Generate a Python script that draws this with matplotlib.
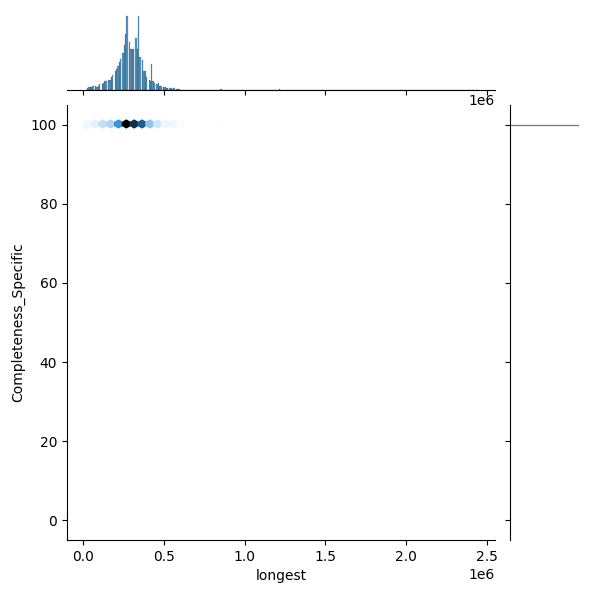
import numpy as np
import pandas as pd
import seaborn as sns
import matplotlib
matplotlib.use("Agg")
import matplotlib.pyplot as plt

# histogram of 'longest': bin start (x1e4) and relative counts
bin_starts = list(range(2, 60))  # 0.02e6 .. 0.59e6 in steps of 0.01e6
bin_counts = [3, 4, 4, 4, 5, 5, 4, 6, 8, 8, 10, 12, 12, 14, 14, 18, 20, 25,
              28, 32, 38, 42, 50, 60, 75, 100, 65, 55, 55, 55, 70, 55, 100, 45,
              40, 25, 25, 18, 14, 12, 35, 12, 10, 8, 10, 6, 5, 4, 4, 3, 3, 3,
              2, 2, 3, 2, 2, 2]
outlier_x = [0.62e6, 0.65e6, 0.70e6, 0.74e6, 0.85e6, 0.95e6, 1.08e6, 1.18e6,
             1.22e6, 1.55e6, 1.62e6, 1.75e6, 2.0e6, 2.45e6]
outlier_n = [2, 2, 2, 1, 6, 1, 1, 2, 3, 1, 1, 2, 1, 1]
zero_x = [0.30e6, 0.42e6, 0.55e6]

xs = np.concatenate([
    np.repeat(np.array(bin_starts) * 1e4 + 5e3, np.array(bin_counts) * 3),
    np.repeat(outlier_x, outlier_n),
    zero_x,
])
ys = np.full(len(xs), 100.0)
ys[-len(zero_x):] = 0.0

df = pd.DataFrame({"longest": xs, "Completeness_Specific": ys})
g = sns.jointplot(data=df, x="longest", y="Completeness_Specific", kind="hex", height=6,
                  marginal_kws=dict(bins=300))
g.ax_marg_x.set_xlim(-0.1e6, 2.55e6)
W = 600
g.ax_joint.set_position([67/W, 60/W, 428/W, 435/W])
g.ax_marg_x.set_position([67/W, 510/W, 428/W, 78/W])
g.ax_marg_y.set_position([510/W, 60/W, 72/W, 435/W])
g.figure.savefig("out.png", dpi=100)
